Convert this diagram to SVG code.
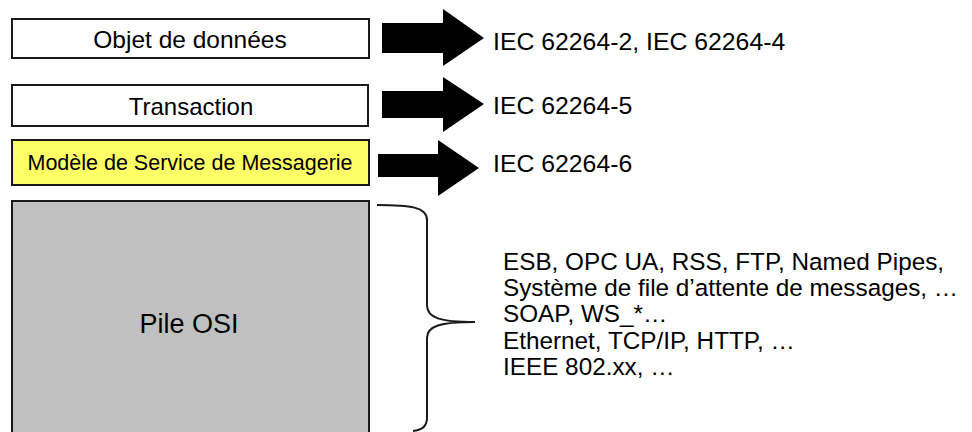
<svg xmlns="http://www.w3.org/2000/svg" width="972" height="432" viewBox="0 0 972 432">
<style>
.box{stroke:#1a1a1a;stroke-width:2}
.t{font-family:"Liberation Sans",Arial,sans-serif;fill:#000}
.arrow{fill:#000}
.brace{fill:none;stroke:#1a1a1a;stroke-width:2}
</style>
<rect width="972" height="432" fill="#fff"/>
<g id="objet">
<rect class="box" x="12" y="19" width="357" height="39" fill="#fff"/>
<text class="t" x="190" y="48" font-size="24.5" text-anchor="middle">Objet de données</text>
</g>
<g id="transaction">
<rect class="box" x="12" y="85" width="356" height="41" fill="#fff"/>
<text class="t" x="191" y="115" font-size="24" text-anchor="middle">Transaction</text>
</g>
<g id="messagerie">
<rect class="box" x="12" y="140" width="357" height="45" fill="#ffff66"/>
<text class="t" x="190" y="170" font-size="21.5" text-anchor="middle">Modèle de Service de Messagerie</text>
</g>
<g id="osi">
<rect class="box" x="12" y="201" width="357" height="240" fill="#c0c0c0"/>
<text class="t" x="189" y="333" font-size="27" text-anchor="middle">Pile OSI</text>
</g>
<g id="connectors">
<polygon class="arrow" points="382,23 443,23 443,9 484,38 443,66 443,53 382,53"/>
<polygon class="arrow" points="382,91 443,91 443,77 484,104 443,132 443,118 382,118"/>
<polygon class="arrow" points="378,154 438,154 438,140 479,168 438,196 438,177 378,177"/>
<path class="brace" d="M377,205 C410,205 427,207 427,220 L427,305 C427,318 440,322 475,322 C440,322 427,326 427,338 L427,418 C427,428 420,430 413,431"/>
</g>
<g id="labels">
<text class="t" x="493" y="50" font-size="24.8">IEC 62264-2, IEC 62264-4</text>
<text class="t" x="493" y="114" font-size="24.8">IEC 62264-5</text>
<text class="t" x="493" y="172" font-size="24.8">IEC 62264-6</text>
<text class="t" font-size="24.3">
<tspan x="503" y="270">ESB, OPC UA, RSS, FTP, Named Pipes,</tspan>
<tspan x="503" y="296">Système de file d’attente de messages, …</tspan>
<tspan x="503" y="322">SOAP, WS_*…</tspan>
<tspan x="503" y="349">Ethernet, TCP/IP, HTTP, …</tspan>
<tspan x="503" y="375">IEEE 802.xx, …</tspan>
</text>
</g>
</svg>
